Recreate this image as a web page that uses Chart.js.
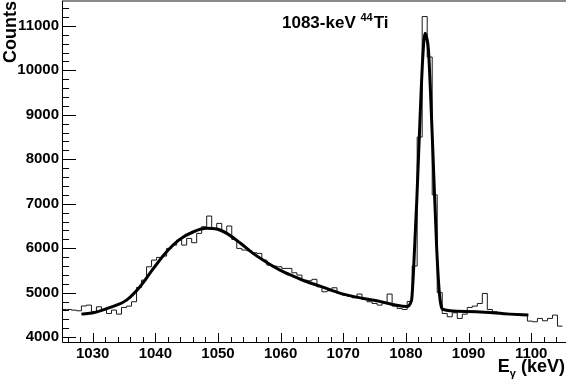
<!DOCTYPE html>
<html>
<head>
<meta charset="utf-8">
<script src="https://cdn.jsdelivr.net/npm/chart.js@4.4.0/dist/chart.umd.min.js"></script>
<style>
  html, body { margin: 0; padding: 0; background: #fff; }
  #wrap { width: 566px; height: 386px; position: relative; }
</style>
</head>
<body>
<div id="wrap"><canvas id="grafica"></canvas></div>
<script>
// histograma: bins de 0.8 keV desde 1025 keV
const binStart = 1025;
const binWidth = 0.8;
const counts = [
  4622, 4622, 4607, 4592, 4700, 4720, 4570, 4682, 4622, 4532,
  4607, 4517, 4667, 4697, 4795, 5117, 5282, 5582, 5732, 5793,
  5823, 5995, 6070, 6183, 6070, 6220, 6123, 6333, 6483, 6723,
  6423, 6558, 6370, 6498, 6198, 5995, 5958, 5943, 5898, 5883,
  5732, 5620, 5597, 5582, 5545, 5545, 5447, 5395, 5282, 5267,
  5300, 5132, 5020, 5042, 5110, 4982, 4945, 4922, 4885, 4968,
  4847, 4795, 4757, 4720, 4772, 4968, 4697, 4645, 4622, 4800,
  5600, 8500, 11210, 10300, 7200, 5000, 4532, 4457, 4547, 4420,
  4517, 4667, 4697, 4757, 4982, 4622, 4570, 4547, 4532, 4517,
  4517, 4495, 4495, 4360, 4345, 4420, 4367, 4420, 4495, 4247
];

// curva de ajuste
const fitE = [1028.2, 1030.1, 1032.8, 1035.4, 1037.55, 1039.7, 1041.8, 1043.9, 1046.1, 1048.2,
  1049.8, 1051.4, 1053.5, 1055.6, 1057.8, 1059.9, 1062.0, 1064.2, 1066.3, 1070.0,
  1075.35, 1080.1, 1080.9, 1081.2, 1081.74, 1082.27, 1082.7, 1083.07, 1083.34, 1083.6,
  1083.98, 1084.4, 1084.93, 1085.35, 1085.73, 1086.0, 1087.06, 1091.3, 1096.6, 1099.56];
const fitC = [4517, 4547, 4667, 4832, 5132, 5545, 5920, 6198, 6370, 6446,
  6430, 6333, 6122, 5883, 5680, 5508, 5373, 5245, 5147, 4967,
  4817, 4690, 4830, 5440, 7083, 8960, 10310, 10835, 10723, 10460,
  9334, 7833, 5958, 4983, 4650, 4620, 4592, 4570, 4517, 4495];

const xMin = 1025.1, xMax = 1105.4;
const yMin = 3890, yMax = 11560;
const xMajor = 10, xMinor = 2;
const yMajor = 1000, yMinor = 200;

const titulo = '1083-keV';
const tituloSup = '44';
const tituloFin = 'Ti';
const ejeY = 'Counts';
const ejeX = 'E';
const ejeXSub = 'γ';
const ejeXFin = '(keV)';

const FONT = '"Liberation Sans", Arial, sans-serif';
Chart.defaults.font.family = FONT;

const histData = counts.map((c, i) => ({x: binStart + i * binWidth, y: c}));
histData.push({x: binStart + counts.length * binWidth, y: counts[counts.length - 1]});
const fitData = fitE.map((e, i) => ({x: e, y: fitC[i]}));

function esMultiplo(v, paso) {
  return Math.abs(v - Math.round(v / paso) * paso) < 1e-6;
}

// ticks limpios: solo multiplos del paso menor dentro del rango
function ticksLimpios(scale, paso) {
  const lista = [];
  for (let v = Math.ceil(scale.min / paso) * paso; v <= scale.max + 1e-9; v += paso) {
    lista.push({value: v});
  }
  scale.ticks = lista;
}

function sinPadding(scale) {
  scale.paddingTop = 0;
  scale.paddingBottom = 0;
  scale.paddingLeft = 0;
  scale.paddingRight = 0;
}

// ejes estilo ROOT: ticks hacia adentro + textos
const ejesRoot = {
  id: 'ejesRoot',
  afterDatasetsDraw(chart) {
    const {ctx, chartArea: a, scales: {x, y}} = chart;
    ctx.save();
    // linea gris arriba
    ctx.strokeStyle = '#8a8a8a';
    ctx.lineWidth = 2;
    ctx.beginPath();
    ctx.moveTo(a.left, a.top);
    ctx.lineTo(a.right + 1, a.top);
    ctx.stroke();

    ctx.strokeStyle = '#000';
    ctx.lineWidth = 1;
    ctx.beginPath();
    ctx.moveTo(a.left + 0.5, a.top);
    ctx.lineTo(a.left + 0.5, a.bottom + 0.5);
    ctx.lineTo(a.right + 1, a.bottom + 0.5);
    x.ticks.forEach(t => {
      const px = Math.round(x.getPixelForValue(t.value)) + 0.5;
      const len = esMultiplo(t.value, xMajor) ? 9 : 5;
      ctx.moveTo(px, a.bottom);
      ctx.lineTo(px, a.bottom - len);
    });
    y.ticks.forEach(t => {
      const py = Math.round(y.getPixelForValue(t.value)) + 0.5;
      const len = esMultiplo(t.value, yMajor) ? 14 : 7;
      ctx.moveTo(a.left, py);
      ctx.lineTo(a.left + len, py);
    });
    ctx.stroke();

    ctx.fillStyle = '#000';
    // titulo
    ctx.textBaseline = 'alphabetic';
    ctx.textAlign = 'left';
    ctx.font = 'bold 17px ' + FONT;
    let tx = 282;
    ctx.fillText(titulo, tx, 28);
    tx += ctx.measureText(titulo + ' ').width;
    ctx.font = 'bold 11px ' + FONT;
    ctx.fillText(tituloSup, tx, 21);
    tx += ctx.measureText(tituloSup).width + 1;
    ctx.font = 'bold 17px ' + FONT;
    ctx.fillText(tituloFin, tx, 28);

    // titulo eje x (alineado a la derecha)
    ctx.font = 'bold 18px ' + FONT;
    const wFin = ctx.measureText(ejeXFin).width;
    const wSp = ctx.measureText(' ').width;
    const wE = ctx.measureText(ejeX).width;
    ctx.font = 'bold 11px ' + FONT;
    const wSub = ctx.measureText(ejeXSub).width;
    let ex = 565 - wFin - wSp - wSub - wE;
    ctx.font = 'bold 18px ' + FONT;
    ctx.fillText(ejeX, ex, 372);
    ex += wE;
    ctx.font = 'bold 11px ' + FONT;
    ctx.fillText(ejeXSub, ex, 377);
    ex += wSub + wSp;
    ctx.font = 'bold 18px ' + FONT;
    ctx.fillText(ejeXFin, ex, 372);

    // titulo eje y (rotado, alineado arriba)
    ctx.translate(16, 1);
    ctx.rotate(-Math.PI / 2);
    ctx.textAlign = 'right';
    ctx.font = 'bold 18px ' + FONT;
    ctx.fillText(ejeY, 0, 0);
    ctx.restore();
  }
};

new Chart(document.getElementById('grafica'), {
  type: 'line',
  data: {
    datasets: [
      {
        label: 'ajuste',
        data: fitData,
        borderColor: '#000',
        borderWidth: 3,
        pointRadius: 0,
        cubicInterpolationMode: 'monotone',
        fill: false
      },
      {
        label: 'histograma',
        data: histData,
        borderColor: '#1a1a1a',
        borderWidth: 1,
        pointRadius: 0,
        stepped: 'before',
        fill: false
      }
    ]
  },
  options: {
    responsive: true,
    maintainAspectRatio: false,
    animation: false,
    layout: { padding: { top: 1, right: 1, left: 0, bottom: 0 } },
    plugins: { legend: { display: false }, tooltip: { enabled: false } },
    scales: {
      x: {
        type: 'linear',
        min: xMin,
        max: xMax,
        afterBuildTicks: s => ticksLimpios(s, xMinor),
        afterFit: s => { s.height = 44; sinPadding(s); },
        grid: { display: false, drawTicks: false },
        border: { display: false },
        ticks: {
          autoSkip: false,
          maxRotation: 0,
          padding: 3,
          color: '#000',
          font: { size: 15, weight: 'bold' },
          callback: v => (esMultiplo(v, xMajor) ? String(Math.round(v)) : '')
        }
      },
      y: {
        type: 'linear',
        min: yMin,
        max: yMax,
        afterBuildTicks: s => ticksLimpios(s, yMinor),
        afterFit: s => { s.width = 62; sinPadding(s); },
        grid: { display: false, drawTicks: false },
        border: { display: false },
        ticks: {
          autoSkip: false,
          padding: 3,
          color: '#000',
          font: { size: 15, weight: 'bold' },
          callback: v => (esMultiplo(v, yMajor) ? String(Math.round(v)) : '')
        }
      }
    }
  },
  plugins: [ejesRoot]
});
</script>
</body>
</html>
